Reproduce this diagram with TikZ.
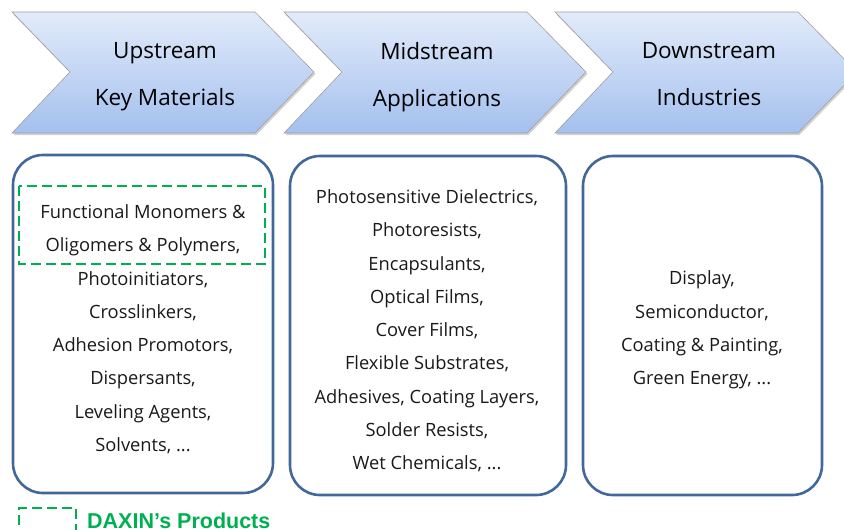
\documentclass[tikz,border=0pt]{standalone}
\usepackage{fontspec}
\setmainfont{Open Sans}
\newfontfamily\legendfont{Liberation Sans}
\definecolor{chevtop}{HTML}{E2EBFA}
\definecolor{chevbot}{HTML}{A4C0EE}
\definecolor{boxline}{HTML}{41679B}
\definecolor{daxgreen}{HTML}{00B050}
\begin{document}
\begin{tikzpicture}[x=1pt,y=-1pt,
    chev/.style={draw=gray!75,line width=0.6pt,top color=chevtop,bottom color=chevbot},
    chevshade/.style={fill=gray!35,draw=none},
    headtext/.style={align=center,font=\fontsize{22.5}{47}\selectfont,text=black},
    listbox/.style={draw=boxline,line width=2.6pt,rounded corners=30pt},
    listtext/.style={align=center,font=\fontsize{18.3}{33.3}\selectfont,text=black!90},
    ownbox/.style={draw=daxgreen,line width=2.8pt,dash pattern=on 10pt off 5pt}]
    \useasboundingbox (0,0) rectangle (844,530);
    % value chain chevrons
    \foreach \x in {12,284,555}{
        \fill[chevshade] (\x+1.5,14.5) -- ++(243,0) -- ++(59,59.5) -- ++(-59,61) -- ++(-243,0) -- ++(58,-61) -- cycle;
        \draw[chev] (\x,12) -- ++(243,0) -- ++(59,60) -- ++(-59,61) -- ++(-243,0) -- ++(58,-61) -- cycle;
    }
    \node[headtext] (up) at (165,77) {Upstream\\Key Materials};
    \node[headtext] (mid) at (437,77) {Midstream\\Applications};
    \node[headtext] (down) at (709,74) {Downstream\\Industries};
    % lists
    \draw[listbox] (13,155) rectangle (273,493);
    \draw[listbox] (290,156) rectangle (566,495);
    \draw[listbox] (583,156) rectangle (822,495);
    \node[listtext,anchor=north] (keymat) at (143,201) {Functional Monomers \&\\Oligomers \& Polymers,\\Photoinitiators,\\Crosslinkers,\\Adhesion Promotors,\\Dispersants,\\Leveling Agents,\\Solvents, ...};
    \node[listtext,anchor=north] (apps) at (427,186) {Photosensitive Dielectrics,\\Photoresists,\\Encapsulants,\\Optical Films,\\Cover Films,\\Flexible Substrates,\\Adhesives, Coating Layers,\\Solder Resists,\\Wet Chemicals, ...};
    \node[listtext] (inds) at (702,330) {Display,\\Semiconductor,\\Coating \& Painting,\\Green Energy, ...};
    % daxin products
    \draw[ownbox] (19,186) rectangle (265,264);
    \draw[ownbox] (19,540) -- (19,508) -- (76,508) -- (76,540);
    \node[anchor=base west,inner sep=0pt,font=\legendfont\bfseries\fontsize{21.5}{24}\selectfont,text=daxgreen] (legend) at (87,528) {DAXIN’s Products};
\end{tikzpicture}
\end{document}
